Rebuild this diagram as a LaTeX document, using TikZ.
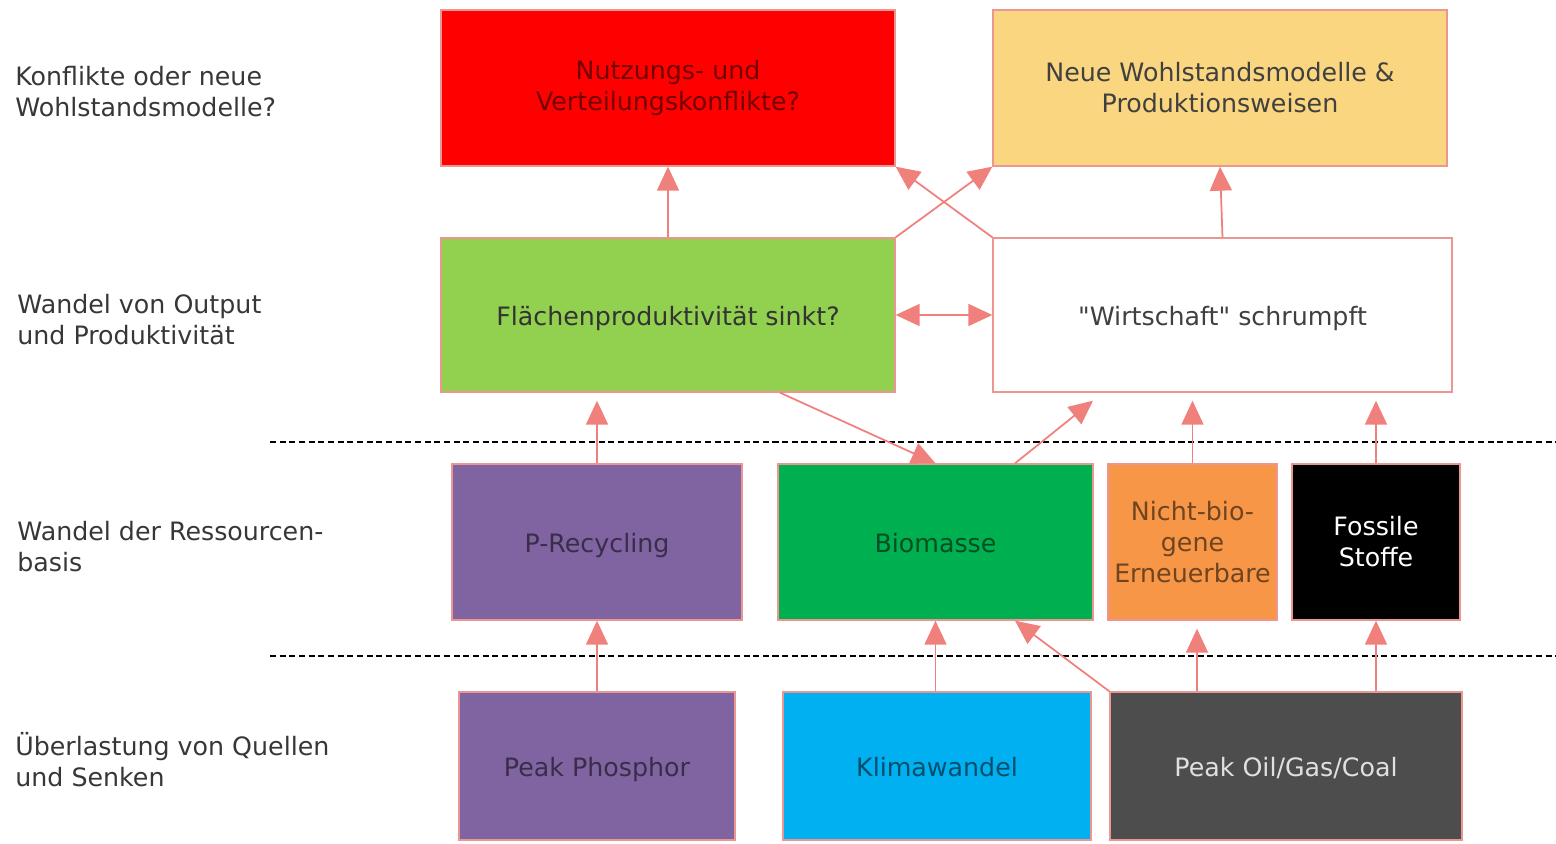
\documentclass[tikz,border=0pt]{standalone}
\usepackage{fontspec}
\setmainfont{DejaVu Sans}
\newfontfamily\plainfont{DejaVu Sans}
\usetikzlibrary{arrows.meta}
\definecolor{bordercol}{RGB}{236,150,145}
\definecolor{arrowcol}{RGB}{240,128,124}
\definecolor{cred}{RGB}{255,0,0}
\definecolor{cyellow}{RGB}{249,214,127}
\definecolor{clgreen}{RGB}{146,208,80}
\definecolor{cpurple}{RGB}{128,100,162}
\definecolor{cgreen}{RGB}{0,176,80}
\definecolor{corange}{RGB}{247,150,70}
\definecolor{cblue}{RGB}{0,176,240}
\definecolor{cgray}{RGB}{77,77,77}
\definecolor{labelcol}{RGB}{55,55,55}
\begin{document}
\begin{tikzpicture}[x=0.02cm,y=-0.02cm,
  txt/.style={font=\fontsize{14.4}{17.6}\selectfont, align=center},
  box/.style={txt, draw=bordercol, line width=0.8pt, inner sep=2pt, fill=#1, text=#1!45!black},
  lowtext/.style={text height=14pt, text depth=2pt},
  sidelabel/.style={font=\fontsize{14.4}{17.6}\selectfont, align=left, anchor=west, text=labelcol, inner sep=0pt},
  conn/.style={draw=arrowcol, line width=1pt, -{Triangle[width=0.44cm,length=0.48cm]}},
  dconn/.style={draw=arrowcol, line width=1pt, {Triangle[width=0.44cm,length=0.48cm]}-{Triangle[width=0.44cm,length=0.48cm]}},
  sep/.style={draw=black, line width=0.9pt, dash pattern=on 3.5pt off 2pt}
]
\useasboundingbox (0,0) rectangle (1556,844);

% side labels
\node[sidelabel] (l1) at (15,92) {Konflikte oder neue\\Wohlstandsmodelle?};
\node[sidelabel] (l2) at (17,320) {Wandel von Output\\und Produktivität};
\node[sidelabel] (l3) at (17,547) {Wandel der Ressourcen-\\basis};
\node[sidelabel] (l4) at (15,760) {Überlastung von Quellen\\und Senken};

% separators
\draw[sep] (270,442) -- (1556,442);
\draw[sep] (270,656) -- (1556,656);

% top row
\node[box=cred, minimum width=9.08cm, minimum height=3.12cm] (konf) at (668,88) {Nutzungs- und\\Verteilungskonflikte?};
\node[box=cyellow, minimum width=9.08cm, minimum height=3.12cm, text=black!75] (neue) at (1220,88) {Neue Wohlstandsmodelle \&\\Produktionsweisen};

% second row
\node[box=clgreen, minimum width=9.08cm, minimum height=3.08cm, text=black!80, lowtext] (flaeche) at (668,315) {Flächenproduktivität sinkt?};
\node[box=white, minimum width=9.18cm, minimum height=3.08cm, text=black!75, lowtext] (wirt) at (1222.5,315) {{\plainfont"}Wirtschaft{\plainfont"} schrumpft};

% third row
\node[box=cpurple, minimum width=5.8cm, minimum height=3.12cm, lowtext] (prec) at (597,542) {P-Recycling};
\node[box=cgreen, minimum width=6.3cm, minimum height=3.12cm, lowtext] (bio) at (935.5,542) {Biomasse};
\node[box=corange, minimum width=3.38cm, minimum height=3.12cm] (nbio) at (1192.5,542) {Nicht-bio-\\gene\\Erneuerbare};
\node[box=black, minimum width=3.36cm, minimum height=3.12cm, text=white] (foss) at (1376,542) {Fossile\\Stoffe};

% bottom row
\node[box=cpurple, minimum width=5.52cm, minimum height=2.96cm, lowtext] (pphos) at (597,766) {Peak Phosphor};
\node[box=cblue, minimum width=6.16cm, minimum height=2.96cm, lowtext] (klima) at (937,766) {Klimawandel};
\node[box=cgray, minimum width=7.04cm, minimum height=2.96cm, text=black!12, lowtext] (poil) at (1286,766) {Peak Oil/Gas/Coal};

% connectors: second row to top
\draw[conn] (flaeche.north) -- (konf.south);
\draw[conn] (flaeche.north east) -- (neue.south west);
\draw[conn] (wirt.north west) -- (konf.south east);
\draw[conn] (wirt.north) -- (neue.south);
\draw[dconn] (flaeche.east) -- (wirt.west);

% third row to second row
\draw[conn] (prec.north) -- ([yshift=-0.16cm]prec.north |- flaeche.south);
\draw[conn] ([xshift=2.24cm]flaeche.south) -- (bio.north);
\draw[conn] ([xshift=1.59cm]bio.north) -- ([xshift=-2.59cm,yshift=-0.16cm]wirt.south);
\draw[conn] (nbio.north) -- ([yshift=-0.16cm]nbio.north |- wirt.south);
\draw[conn] (foss.north) -- ([yshift=-0.16cm]foss.north |- wirt.south);

% bottom row to third row
\draw[conn] (pphos.north) -- (prec.south);
\draw[conn] (klima.north -| bio.south) -- (bio.south);
\draw[conn] (poil.north west) -- ([xshift=1.59cm]bio.south);
\draw[conn] ([xshift=-1.78cm]poil.north) -- ([xshift=-1.78cm,yshift=-0.16cm]poil.north |- nbio.south);
\draw[conn] (poil.north -| foss.south) -- (foss.south);
\end{tikzpicture}
\end{document}
